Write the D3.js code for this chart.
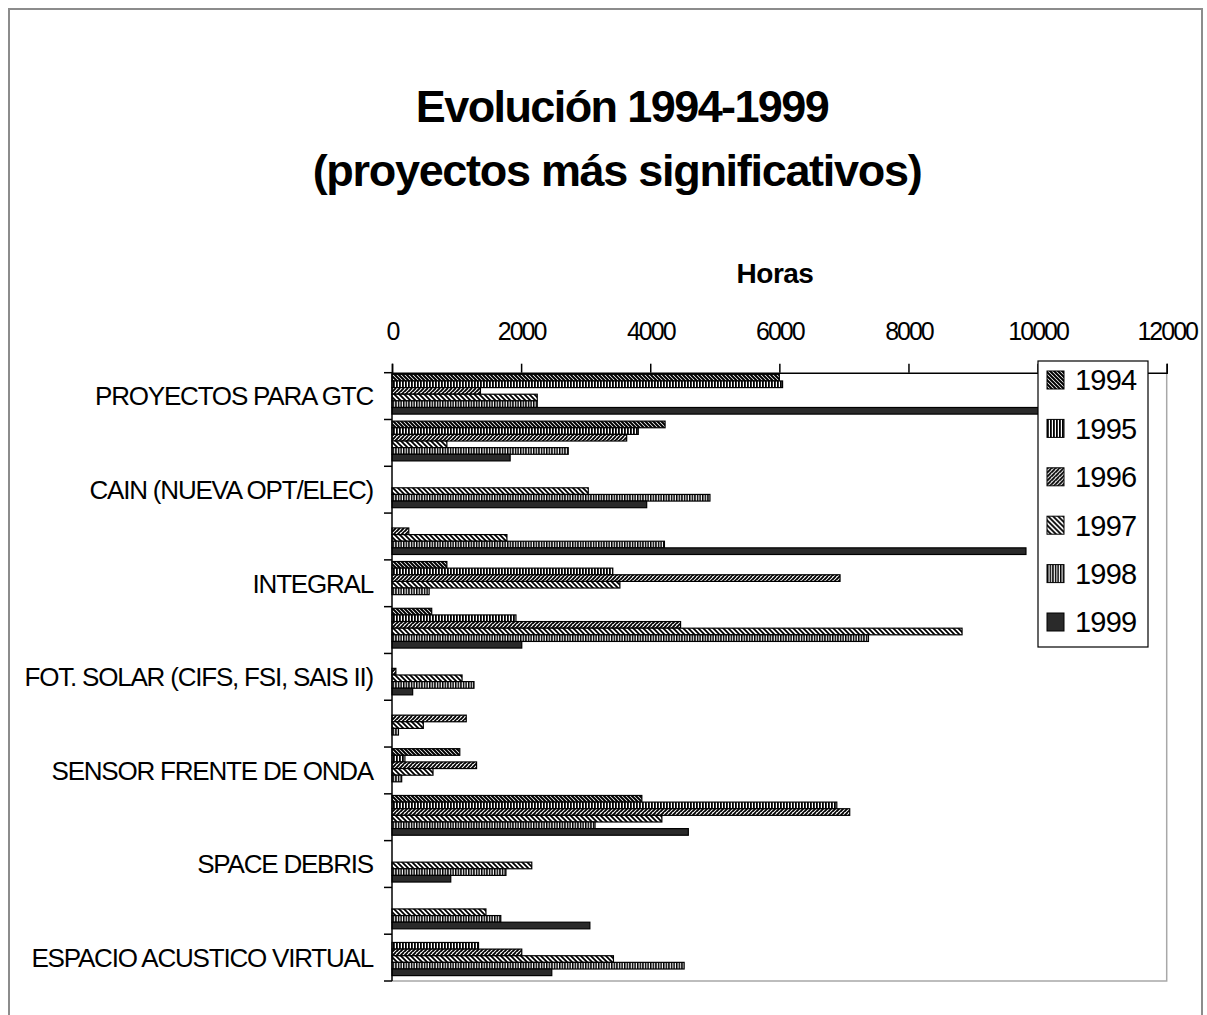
<!DOCTYPE html>
<html>
<head>
<meta charset="utf-8">
<script src="https://cdn.jsdelivr.net/npm/d3@7/dist/d3.min.js"></script>
<style>
  html, body { margin: 0; padding: 0; background: #fff; }
  svg { display: block; font-family: "Liberation Sans", Arial, sans-serif; }
</style>
</head>
<body>
<svg id="chart" width="1207" height="1015"></svg>
<script>
// Project hours per year, one row per project (top to bottom)
const categories = [
  "PROYECTOS PARA GTC", "", "CAIN (NUEVA OPT/ELEC)", "", "INTEGRAL", "",
  "FOT. SOLAR (CIFS, FSI, SAIS II)", "", "SENSOR FRENTE DE ONDA", "",
  "SPACE DEBRIS", "", "ESPACIO ACUSTICO VIRTUAL"
];
const years = ["1994", "1995", "1996", "1997", "1998", "1999"];
const hours1994 = [6000, 4230, 0, 0, 850, 615, 0, 0, 1050, 3870, 0, 0, 0];
const hours1995 = [6050, 3815, 0, 0, 3420, 1920, 0, 0, 200, 6890, 0, 0, 1340];
const hours1996 = [1370, 3635, 0, 260, 6940, 4470, 60, 1150, 1310, 7090, 0, 0, 2010];
const hours1997 = [2250, 850, 3040, 1780, 3530, 8830, 1085, 485, 635, 4180, 2165, 1455, 3430];
const hours1998 = [2250, 2730, 4925, 4220, 575, 7380, 1270, 100, 150, 3145, 1765, 1685, 4525];
const hours1999 = [10500, 1830, 3945, 9820, 0, 2010, 320, 0, 0, 4590, 910, 3065, 2475];
const xTicks = [0, 2000, 4000, 6000, 8000, 10000, 12000];

const seriesValues = [hours1994, hours1995, hours1996, hours1997, hours1998, hours1999];
const rows = [];
categories.forEach((c, i) => {
  years.forEach((yr, s) => rows.push({ cat: i, year: yr, value: seriesValues[s][i] }));
});

const svg = d3.select("#chart");
const plot = { left: 392, top: 372.7, right: 1166.7, bottom: 981 };

// outer chart frame
svg.append("rect")
  .attr("x", 9).attr("y", 9).attr("width", 1193).attr("height", 1020)
  .attr("fill", "none").attr("stroke", "#8c8c8c").attr("stroke-width", 2);

// hatch patterns for the series
const defs = svg.append("defs");
function hatch(id, size, draw, bg) {
  const p = defs.append("pattern").attr("id", id)
    .attr("patternUnits", "userSpaceOnUse")
    .attr("width", size).attr("height", size);
  p.append("rect").attr("width", size).attr("height", size).attr("fill", bg || "#fff");
  draw(p, size);
}
const back = s => `M0,0 L${s},${s} M${-s},0 L${s},${2*s} M0,${-s} L${2*s},${s}`;
const fwd = s => `M0,${s} L${s},0 M${-s},${s} L0,0 M${s},${2*s} L${2*s},${s} M0,${2*s} L${2*s},0`;
hatch("p1994", 4, (p, s) => {
  p.append("path").attr("d", back(s)).attr("stroke", "#000").attr("stroke-width", 2);
});
hatch("p1995", 3, (p, s) => {
  p.append("rect").attr("x", 0).attr("y", 0).attr("width", 1.8).attr("height", s).attr("fill", "#000");
});
hatch("p1996", 4, (p, s) => {
  p.append("path").attr("d", fwd(s)).attr("stroke", "#000").attr("stroke-width", 1.9);
});
hatch("p1997", 5, (p, s) => {
  p.append("path").attr("d", back(s)).attr("stroke", "#000").attr("stroke-width", 1.8);
});
hatch("p1998", 2.6, (p, s) => {
  p.append("rect").attr("x", 0).attr("y", 0).attr("width", 1.5).attr("height", s).attr("fill", "#000");
});
hatch("p1999", 4, () => {}, "#2a2a2a");
const fillFor = yr => `url(#p${yr})`;

// scales
const x = d3.scaleLinear().domain([0, 12000]).range([plot.left, plot.right]);
const y0 = d3.scaleBand().domain(d3.range(categories.length)).range([plot.top, plot.bottom]);
const bw = y0.bandwidth();
const y1 = d3.scaleBand().domain(years).range([0, bw * 0.85]);
const shift = bw * 0.035;

// plot area frame (right and bottom)
svg.append("path")
  .attr("d", `M${plot.right},${plot.top} L${plot.right},${plot.bottom} L${plot.left},${plot.bottom}`)
  .attr("fill", "none").attr("stroke", "#a8a8a8").attr("stroke-width", 1.5);

// bars
svg.append("g").selectAll("rect")
  .data(rows.filter(d => d.value > 0))
  .join("rect")
  .attr("x", x(0))
  .attr("y", d => y0(d.cat) + shift + y1(d.year))
  .attr("width", d => Math.min(x(d.value), plot.right) - x(0))
  .attr("height", y1.bandwidth())
  .attr("fill", d => fillFor(d.year))
  .attr("stroke", "#000").attr("stroke-width", 1.2);

// value axis on top
const xAxis = d3.axisTop(x).tickValues(xTicks).tickFormat(d3.format("d"))
  .tickSize(9).tickPadding(24);
const gx = svg.append("g").attr("transform", `translate(0,${plot.top})`).call(xAxis);
gx.select(".domain").attr("stroke", "#000").attr("stroke-width", 1.5);
gx.selectAll(".tick line").attr("stroke", "#000").attr("stroke-width", 1.5);
gx.selectAll(".tick text")
  .attr("font-size", 25).attr("letter-spacing", -2)
  .attr("fill", "#000").attr("font-family", "'Liberation Sans', Arial, sans-serif");

// category axis on the left
const gy = svg.append("g");
gy.append("line")
  .attr("x1", plot.left).attr("x2", plot.left)
  .attr("y1", plot.top).attr("y2", plot.bottom)
  .attr("stroke", "#000").attr("stroke-width", 1.5);
gy.selectAll("line.tk")
  .data(d3.range(categories.length + 1))
  .join("line").attr("class", "tk")
  .attr("x1", plot.left - 8).attr("x2", plot.left)
  .attr("y1", i => i < categories.length ? y0(i) : plot.bottom)
  .attr("y2", i => i < categories.length ? y0(i) : plot.bottom)
  .attr("stroke", "#000").attr("stroke-width", 1.5);
gy.selectAll("text")
  .data(categories.map((c, i) => ({ c, i })).filter(d => d.c))
  .join("text")
  .attr("x", plot.left - 19)
  .attr("y", d => y0(d.i) + bw / 2)
  .attr("dy", "0.36em")
  .attr("text-anchor", "end")
  .attr("font-size", 26).attr("letter-spacing", -1.2)
  .text(d => d.c);

// titles
svg.append("text").attr("x", 622).attr("y", 122).attr("text-anchor", "middle")
  .attr("font-size", 45).attr("font-weight", "bold").attr("letter-spacing", -1.6)
  .text("Evolución 1994-1999");
svg.append("text").attr("x", 617).attr("y", 186).attr("text-anchor", "middle")
  .attr("font-size", 45).attr("font-weight", "bold").attr("letter-spacing", -1.3)
  .text("(proyectos más significativos)");
svg.append("text").attr("x", 775).attr("y", 283).attr("text-anchor", "middle")
  .attr("font-size", 28).attr("font-weight", "bold").attr("letter-spacing", -0.5)
  .text("Horas");

// legend
const lg = svg.append("g");
lg.append("rect").attr("x", 1038).attr("y", 361).attr("width", 110).attr("height", 286)
  .attr("fill", "#fff").attr("stroke", "#000").attr("stroke-width", 1.2);
const ly = d3.scalePoint().domain(years).range([380, 622]);
const item = lg.selectAll("g.it").data(years).join("g").attr("class", "it")
  .attr("transform", d => `translate(1047,${ly(d)})`);
item.append("rect").attr("x", 0).attr("y", -9).attr("width", 17).attr("height", 18)
  .attr("fill", d => fillFor(d)).attr("stroke", "#000").attr("stroke-width", 1);
item.append("text").attr("x", 28).attr("y", 0).attr("dy", "0.36em")
  .attr("font-size", 29).attr("letter-spacing", -0.8)
  .text(d => d);
</script>
</body>
</html>
